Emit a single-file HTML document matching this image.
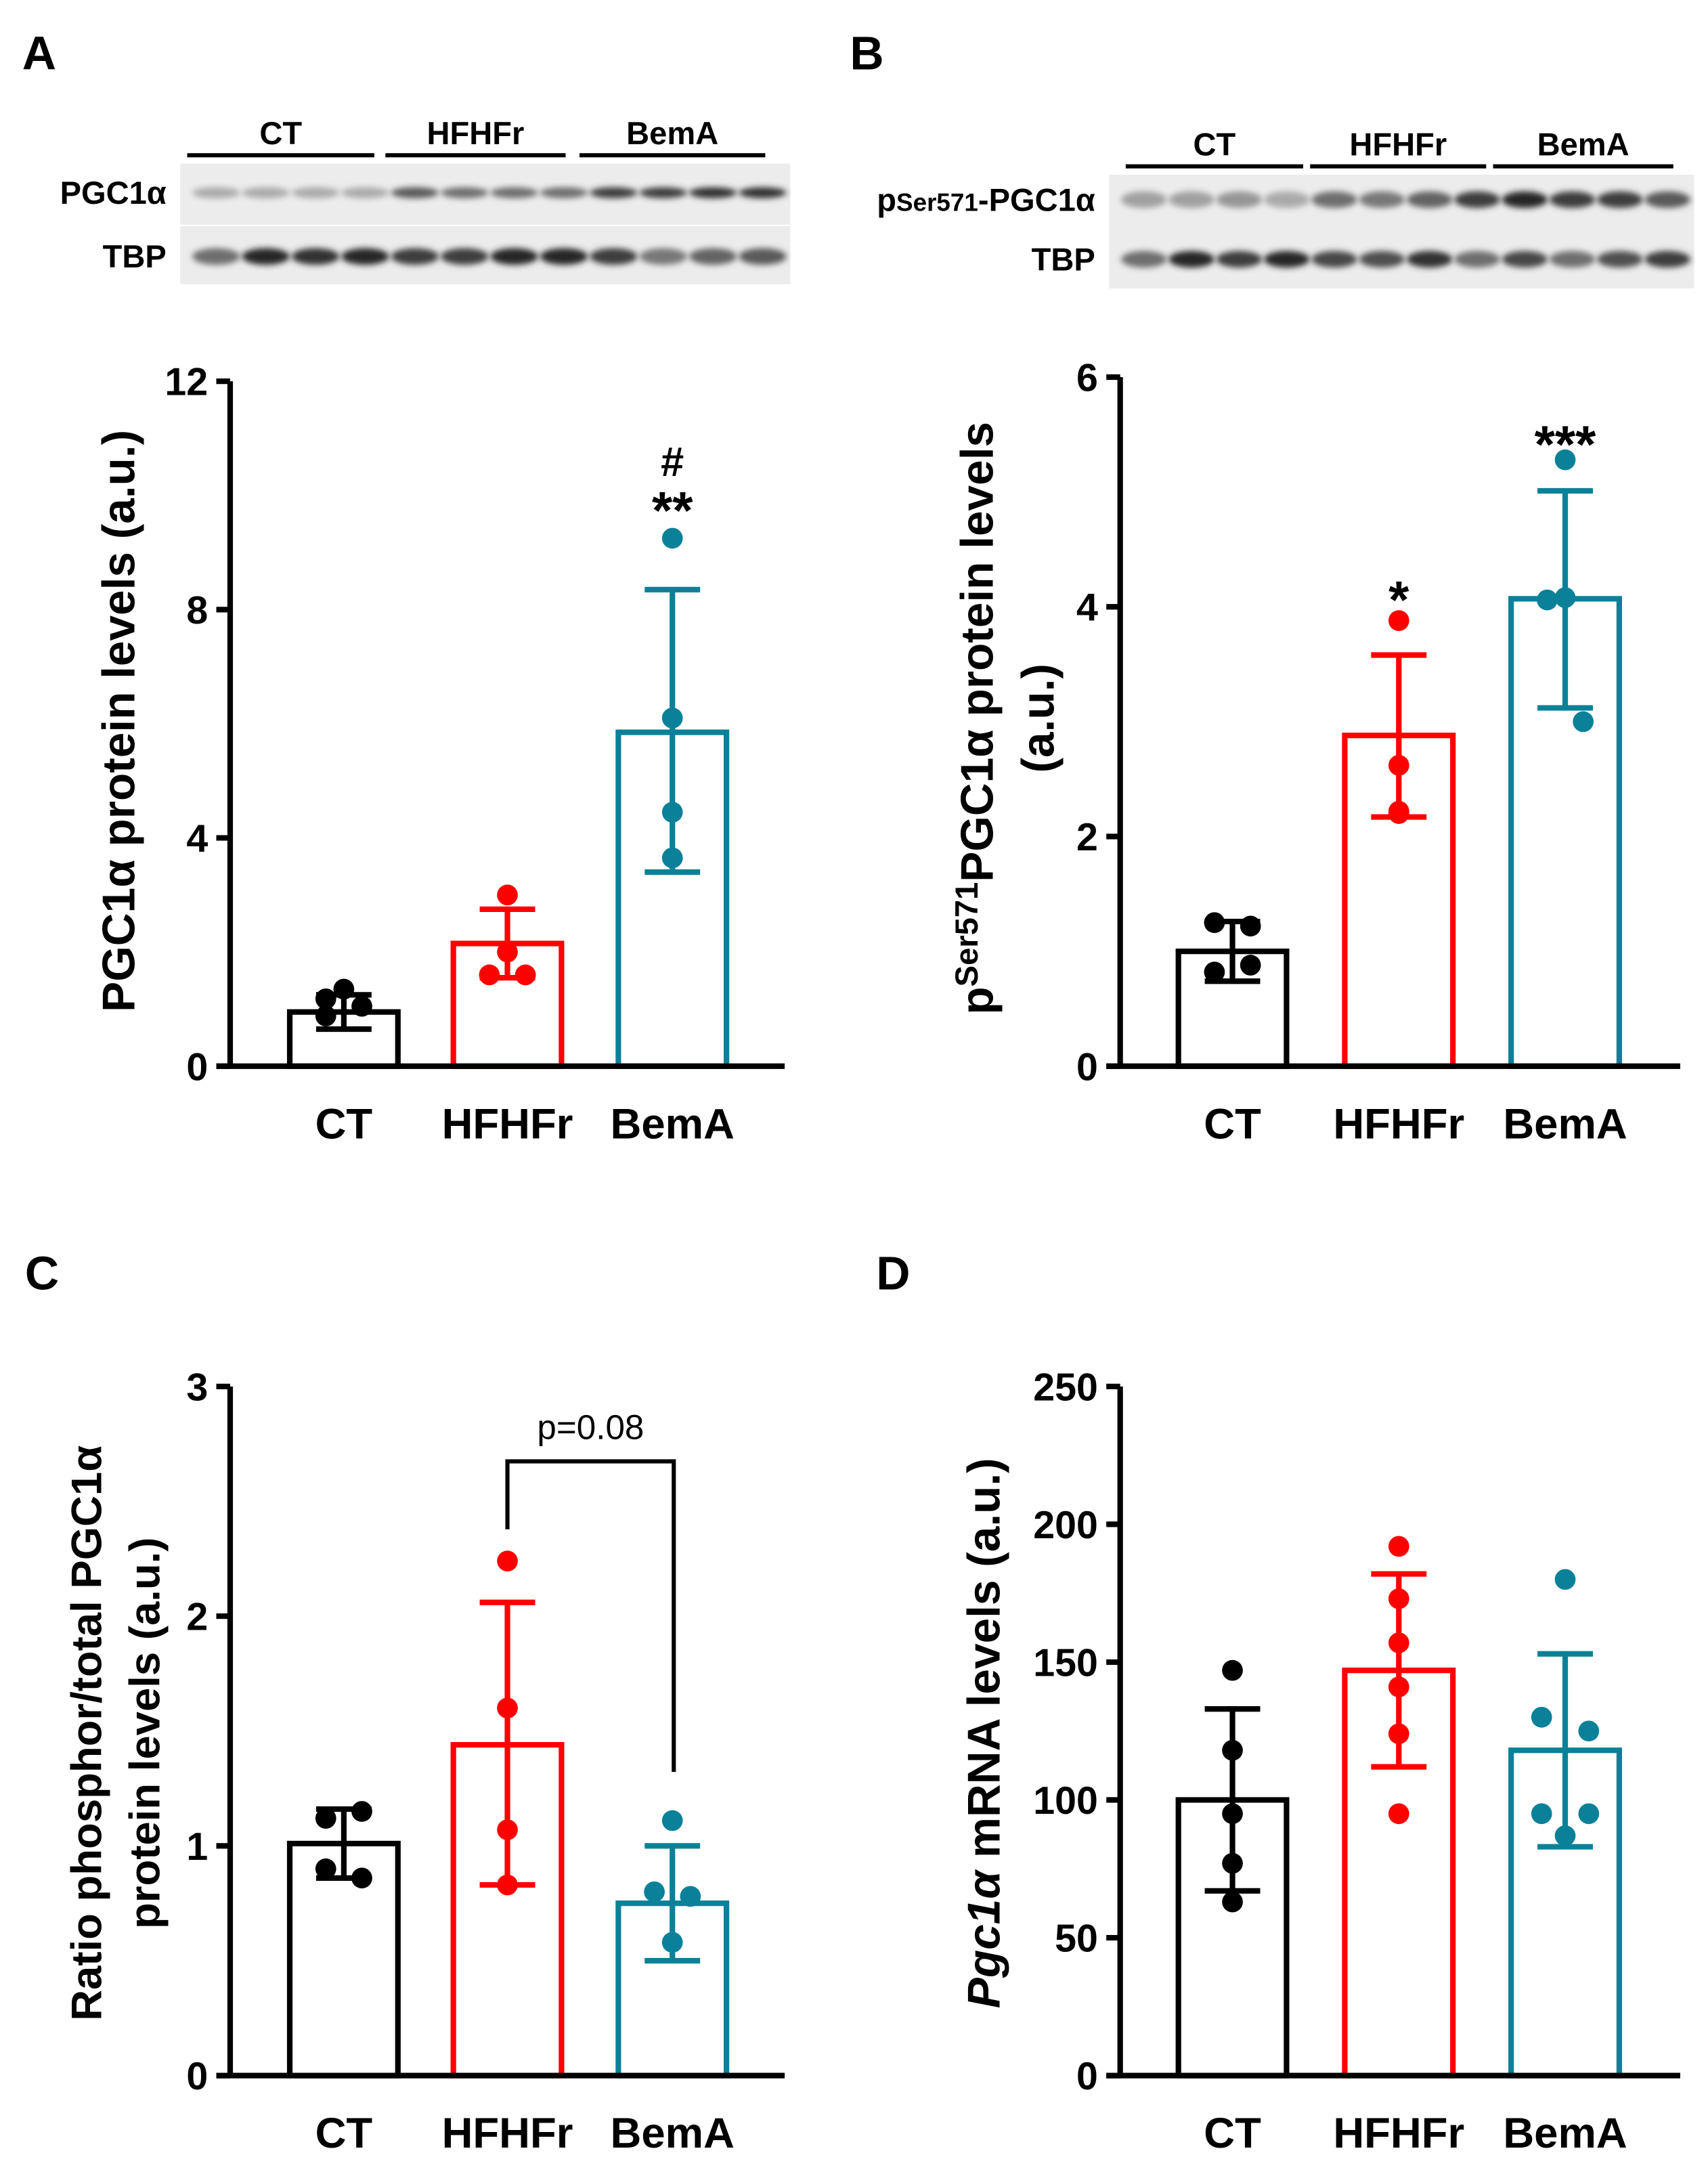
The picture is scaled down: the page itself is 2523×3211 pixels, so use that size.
<!DOCTYPE html>
<html><head><meta charset="utf-8"><style>
html,body{margin:0;padding:0;background:#fff;}
svg{display:block;font-family:"Liberation Sans",Arial,sans-serif;}
</style></head><body>
<svg id="fig" width="2523" height="3211" viewBox="0 0 1232 1568" xmlns="http://www.w3.org/2000/svg">
<defs>
<filter id="blur" x="-20%" y="-50%" width="140%" height="200%"><feGaussianBlur stdDeviation="2.2"/></filter>
</defs>
<g font-weight="bold" font-size="34">
<text x="16" y="50">A</text>
<text x="613" y="50">B</text>
<text x="18" y="930">C</text>
<text x="632" y="930">D</text>
</g>
</svg>
<script>
const categories = ["CT","HFHFr","BemA"];
const colors = ["#000000","#ff0000","#0a8198"];

const aMeans = [0.95, 2.15, 5.85];
const aErrLow = [0.65, 1.55, 3.4];
const aErrHigh = [1.25, 2.75, 8.35];
const aPoints = [[1.35,1.18,0.88,1.05],[3.0,2.0,1.6,1.6],[9.25,6.1,4.45,3.65]];
const aTicks = [0,4,8,12];

const bMeans = [1.0, 2.88, 4.07];
const bErrLow = [0.74, 2.17, 3.12];
const bErrHigh = [1.26, 3.58, 5.01];
const bPoints = [[1.25,1.22,0.82,0.88],[3.88,2.62,2.2,2.22],[5.28,4.08,4.06,3.0]];
const bTicks = [0,2,4,6];

const cMeans = [1.01, 1.44, 0.75];
const cErrLow = [0.86, 0.83, 0.5];
const cErrHigh = [1.16, 2.06, 1.0];
const cPoints = [[1.15,1.12,0.9,0.86],[2.24,1.6,1.07,0.83],[1.11,0.8,0.78,0.58]];
const cTicks = [0,1,2,3];

const dMeans = [100, 147, 118];
const dErrLow = [67, 112, 83];
const dErrHigh = [133, 182, 153];
const dPoints = [[147,118,95,77,63],[192,173,157,141,124,95],[180,130,125,95,95,87]];
const dTicks = [0,50,100,150,200,250];

const NS = "http://www.w3.org/2000/svg";
const svg = document.getElementById("fig");
function mk(tag, attrs, parent){const e=document.createElementNS(NS,tag);for(const k in attrs)e.setAttribute(k,attrs[k]);(parent||svg).appendChild(e);return e;}

function panel(id, ax, means, lo, hi, pts, ticks, annots){
  const g = mk("g",{});
  
  
  const x0=ax.x, yTop=ax.yTop, yBot=ax.yBot, max=ticks[ticks.length-1];
  const y = v => yBot - (v/max)*(yBot-yTop);
  const centers = ax.centers, bw=78;
  means.forEach((m,i)=>{
    const r = mk("rect",{x:centers[i]-bw/2,y:y(m),width:bw,height:yBot-y(m),fill:"none",stroke:colors[i],"stroke-width":4},g);
    
    
    const e = mk("path",{d:`M${centers[i]},${y(lo[i])}V${y(hi[i])}M${centers[i]-20},${y(hi[i])}H${centers[i]+20}M${centers[i]-20},${y(lo[i])}H${centers[i]+20}`,stroke:colors[i],"stroke-width":4,fill:"none"},g);
    
    
    pts[i].forEach((v,j)=>{
      const c = mk("circle",{cx:centers[i]+ax.jitter[i][j%ax.jitter[i].length],cy:y(v),r:7.5,fill:colors[i]},g);
      
      
    });
  });
  const a = mk("path",{d:`M${x0},${yTop}V${yBot}M${x0-10},${yBot}H${ax.xEnd}`,stroke:"#000","stroke-width":4,fill:"none"},g);
  
  
  ticks.forEach(t=>{
    const tk = mk("line",{x1:x0-10,x2:x0,y1:y(t),y2:y(t),stroke:"#000","stroke-width":4},g);
    
    
    const tl = mk("text",{x:x0-16,y:y(t)+10,"text-anchor":"end","font-size":28,"font-weight":"bold"},g);
    tl.textContent=t;
    
    
  });
  categories.forEach((c,i)=>{
    const t = mk("text",{x:centers[i],y:yBot+52,"text-anchor":"middle","font-size":31,"font-weight":"bold"},g);
    t.textContent=c;
    
    
  });
  (annots||[]).forEach(an=>{
    const t = mk("text",{x:centers[an.i],y:y(an.v)+an.dy,"text-anchor":"middle","font-size":an.fs||38,"font-weight":"bold"},g);
    t.textContent=an.t;
    
    
  });
  return y;
}
const cL=[248,366,485], cR=[889,1009,1129];
panel("a",{x:166,yTop:275,yBot:769,xEnd:566,centers:cL,jitter:[[0,-13,-13,13],[0,0,-13,13],[0,0,0,0]]},aMeans,aErrLow,aErrHigh,aPoints,aTicks,
  [{i:2,v:9.25,dy:-7,t:"**"},{i:2,v:9.25,dy:-45,t:"#",fs:30}]);
panel("b",{x:808,yTop:272,yBot:769,xEnd:1212,centers:cR,jitter:[[-13,13,-13,13],[0,0,0,0],[0,0,-13,13]]},bMeans,bErrLow,bErrHigh,bPoints,bTicks,
  [{i:1,v:3.88,dy:-2,t:"*"},{i:2,v:5.28,dy:2,t:"***"}]);
panel("c",{x:166,yTop:1000,yBot:1497,xEnd:566,centers:cL,jitter:[[13,-13,-13,13],[0,0,0,0],[0,-13,13,0]]},cMeans,cErrLow,cErrHigh,cPoints,cTicks,[]);
panel("d",{x:808,yTop:1000,yBot:1497,xEnd:1212,centers:cR,jitter:[[0,0,0,0,0],[0,0,0,0,0,0],[0,-17,17,-17,17,0]]},dMeans,dErrLow,dErrHigh,dPoints,dTicks,[]);

const br = mk("path",{d:`M366,1103V1054H486V1278`,stroke:"#000","stroke-width":3,fill:"none"});


const pv = mk("text",{x:426,y:1038,"text-anchor":"middle","font-size":25});
pv.textContent="p=0.08";



function ytitle(x,cy,html,name,fs){
  const t = mk("text",{transform:`translate(${x},${cy}) rotate(-90)`,"text-anchor":"middle","font-size":fs||33,"font-weight":"bold"});
  t.innerHTML=html;
  
  
}
ytitle(97,520,"PGC1α protein levels (a.u.)","y-axis-title-a");
ytitle(716,518,'p<tspan font-size="23" dy="-11">Ser571</tspan><tspan dy="11">PGC1α protein levels</tspan>',"y-axis-title-b");
ytitle(760,518,"(a.u.)","y-axis-title-b-unit");
ytitle(73,1250,"Ratio phosphor/total PGC1α","y-axis-title-c",31);
ytitle(115,1250,"protein levels (a.u.)","y-axis-title-c-line2",31);
ytitle(721,1250,'<tspan font-style="italic">Pgc1α</tspan> mRNA levels (a.u.)',"y-axis-title-d");

function blot(id, x0, x1, groupLines, gy, bg, bands){
  const g = mk("g",{});
  
  
  groupLines.forEach((l,i)=>{
    const ln = mk("line",{x1:l[0],x2:l[1],y1:gy,y2:gy,stroke:"#000","stroke-width":3},g);
    
    
    const t = mk("text",{x:(l[0]+l[1])/2,y:gy-8,"text-anchor":"middle","font-size":23,"font-weight":"bold"},g);
    t.textContent=categories[i];
    
    
  });
  bg.forEach(b=>{
    const r = mk("rect",{x:x0,y:b[0],width:x1-x0,height:b[1]-b[0],fill:"#ececec"},g);
    
    
  });
  bands.forEach(bd=>{
    const w=(x1-x0-10)/12;
    bd.int.forEach((v,k)=>{
      const cx=x0+8+w*(k+0.5);
      const c=Math.round(230-200*v);
      const e = mk("ellipse",{cx:cx,cy:bd.y,rx:w*0.48,ry:bd.h,fill:`rgb(${c},${c},${c})`,filter:"url(#blur)"},g);
      
      
    });
    const lab = mk("text",{x:x0-10,y:bd.y+8,"text-anchor":"end","font-size":23,"font-weight":"bold"},g);
    lab.innerHTML=bd.label;
    
    
  });
}
blot("a",130,570,[[135,270],[278,408],[418,552]],112,[[118,162],[163,205]],[
 {y:139,h:4,label:"PGC1α",int:[0.3,0.3,0.3,0.3,0.7,0.6,0.6,0.6,0.85,0.85,0.9,0.9]},
 {y:185,h:6,label:"TBP",int:[0.6,0.95,0.9,0.95,0.85,0.85,0.95,0.95,0.85,0.55,0.65,0.7]}]);
blot("b",800,1222,[[812,940],[945,1072],[1077,1207]],120,[[126,190],[190,208]],[
 {y:144,h:6,label:'p<tspan font-size="18">Ser571</tspan>-PGC1α',int:[0.35,0.35,0.4,0.3,0.6,0.55,0.65,0.85,0.95,0.85,0.85,0.7]},
 {y:187,h:6,label:"TBP",int:[0.6,0.95,0.85,0.95,0.8,0.75,0.9,0.6,0.8,0.6,0.75,0.85]}]);
</script>
</body></html>
